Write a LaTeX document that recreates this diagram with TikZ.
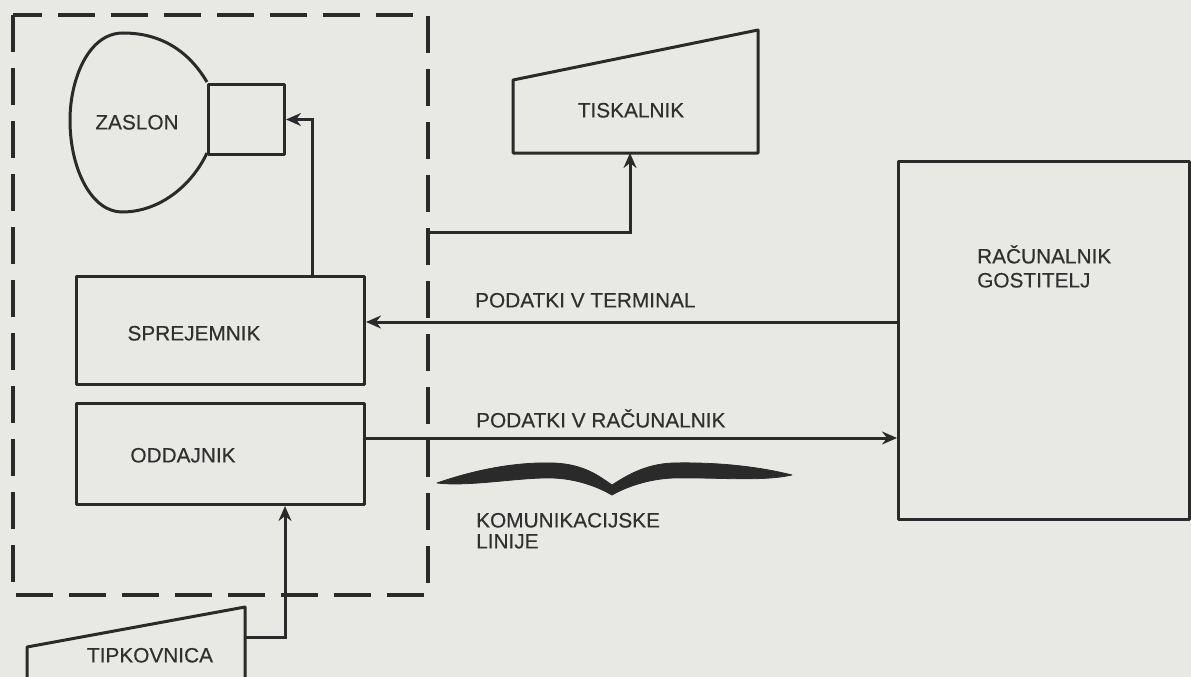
\documentclass[tikz,border=0pt]{standalone}
\usepackage{fontspec}
\setmainfont{Liberation Sans}
\newfontfamily\heavysans[FakeBold=0.35]{Liberation Sans}
\usetikzlibrary{arrows.meta,calc}
\definecolor{paper}{RGB}{232,232,229}
\definecolor{ink}{RGB}{42,42,42}
\definecolor{txt}{RGB}{48,48,48}
\newcommand\lblfont{\heavysans\fontsize{20.8}{24}\selectfont}
\begin{document}
\begin{tikzpicture}[x=1pt,y=-1pt,
  outline/.style={draw=ink, line width=3pt, line join=round},
  boxnode/.style={outline, anchor=north west, inner sep=0pt},
  lbl/.style={text=txt, font=\lblfont, inner sep=0pt, text height=14.9pt, text depth=0pt},
  arr/.style={draw=ink, line width=3pt, -{Stealth[length=15pt,width=13pt,inset=5pt]}},
  border/.style={draw=ink, line width=3.4pt, dash pattern=on 37pt off 16pt},
  bracefill/.style={fill=ink, draw=ink, line width=0.8pt, line join=round}]
\fill[paper] (0,0) rectangle (1191,677);
\useasboundingbox (0,0) rectangle (1191,677);

% terminal boundary
\coordinate (btl) at (13,15);
\coordinate (bbr) at (428,595);
\draw[border] (btl) rectangle (bbr);

% ZASLON (screen)
\draw[outline] (207,82) .. controls (188,50) and (160,33) .. (123,33)
  .. controls (88,33) and (70,80) .. (70,120)
  .. controls (70,170) and (92,212) .. (122,212)
  .. controls (160,212) and (192,185) .. (207,153);
\node[boxnode, minimum width=76pt, minimum height=70pt] (neck) at (207,83) {};
\node[lbl] (zaslon) at (137,122) {ZASLON};

% TISKALNIK (printer)
\draw[outline] (513,80) -- (758,30) -- (758,153) -- (513,153) -- cycle;
\node[lbl] (tisk) at (631,110) {TISKALNIK};
\coordinate (tiskb) at (630,153);

% SPREJEMNIK / ODDAJNIK
\node[boxnode, minimum width=288pt, minimum height=108pt] (sprej) at (75,275) {};
\node[lbl] (sprejl) at (194,333) {SPREJEMNIK};
\node[boxnode, minimum width=288pt, minimum height=101pt] (oddaj) at (75,402) {};
\node[lbl] (oddajl) at (183,455) {ODDAJNIK};

% RACUNALNIK GOSTITELJ
\node[boxnode, minimum width=291pt, minimum height=358pt] (racun) at (897,160) {};
\node[lbl, anchor=west] (rac1) at (977,256) {RAČUNALNIK};
\node[lbl, anchor=west] (rac2) at (977,280) {GOSTITELJ};

% TIPKOVNICA (keyboard)
\draw[outline] (27,700) -- (27,647) -- (245,607) -- (245,700);
\node[lbl] (tipk) at (150,655) {TIPKOVNICA};
\coordinate (tipr) at (245,637);

% connectors
\coordinate (zx) at (312,0);
\draw[arr] (sprej.north -| zx) |- (neck.east);
\coordinate (tap) at (428,232);
\draw[arr] (tap) -| (tiskb);
\coordinate (yT) at (0,322);
\coordinate (yR) at (0,438);
\draw[arr] (yT -| racun.west) -- (yT -| sprej.east);
\draw[arr] (yR -| oddaj.east) -- (yR -| racun.west);
\coordinate (kx) at (285,0);
\draw[arr] (tipr) -| (oddaj.south -| kx);

\node[lbl, anchor=west] (pterm) at (475,300) {PODATKI V TERMINAL};
\node[lbl, anchor=west] (prac) at (476,420) {PODATKI V RAČUNALNIK};

% brace
\fill[bracefill] (437,483) .. controls (480,468) and (520,462) .. (553,463)
  .. controls (585,464) and (600,477) .. (612,485)
  .. controls (626,476) and (645,464) .. (673,463)
  .. controls (720,462) and (760,467) .. (792,475)
  .. controls (760,482) and (715,477) .. (673,478)
  .. controls (648,479) and (626,487) .. (612,495)
  .. controls (598,487) and (578,479) .. (553,478)
  .. controls (520,477) and (470,487) .. (437,483) -- cycle;
\node[lbl, anchor=west] (kom1) at (476,520) {KOMUNIKACIJSKE};
\node[lbl, anchor=west] (kom2) at (476,541) {LINIJE};
\end{tikzpicture}
\end{document}
